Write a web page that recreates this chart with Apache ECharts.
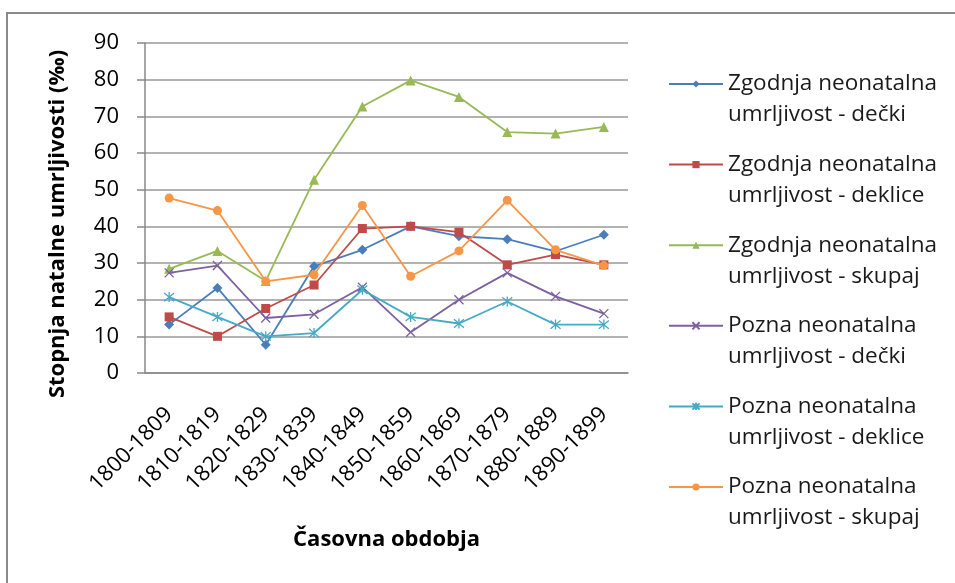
<!DOCTYPE html>
<html>
<head>
<meta charset="utf-8">
<script src="https://cdn.jsdelivr.net/npm/echarts@6/dist/echarts.min.js"></script>
<style>
html,body{margin:0;padding:0;background:#fff;}
#c{width:955px;height:583px;}
</style>
</head>
<body>
<div id="c"></div>
<script>
const categories = ['1800-1809','1810-1819','1820-1829','1830-1839','1840-1849','1850-1859','1860-1869','1870-1879','1880-1889','1890-1899'];
const seriesNames = [
  'Zgodnja neonatalna\numrljivost - dečki',
  'Zgodnja neonatalna\numrljivost - deklice',
  'Zgodnja neonatalna\numrljivost - skupaj',
  'Pozna neonatalna\numrljivost - dečki',
  'Pozna neonatalna\numrljivost - deklice',
  'Pozna neonatalna\numrljivost - skupaj'
];
const zgodnjaDecki   = [13.2, 23.2, 7.7, 29.1, 33.6, 40.0, 37.3, 36.5, 33.2, 37.7];
const zgodnjaDeklice = [15.3, 10.0, 17.6, 24.0, 39.4, 40.0, 38.4, 29.5, 32.3, 29.5];
const zgodnjaSkupaj  = [28.4, 33.3, 25.1, 52.7, 72.7, 79.8, 75.3, 65.7, 65.3, 67.1];
const poznaDecki     = [27.3, 29.3, 15.0, 16.0, 23.4, 11.1, 20.0, 27.3, 20.9, 16.2];
const poznaDeklice   = [20.7, 15.3, 10.0, 10.9, 22.7, 15.3, 13.5, 19.5, 13.2, 13.2];
const poznaSkupaj    = [47.7, 44.3, 25.0, 26.8, 45.7, 26.4, 33.3, 47.1, 33.6, 29.3];
const yTicks = { min: 0, max: 90, interval: 10 };

const colors = ['#4A7EBB', '#BE4B48', '#98B954', '#7D60A0', '#46AAC5', '#F79646'];
const symbols = [
  'diamond', 'rect', 'triangle',
  'path://M0 0 L10 10 M10 0 L0 10',
  'path://M0 0 L10 10 M10 0 L0 10 M5 -1 L5 11',
  'circle'
];
const symbolSizes = [10, 9, 10, 9, 10, 9];
const allData = [zgodnjaDecki, zgodnjaDeklice, zgodnjaSkupaj, poznaDecki, poznaDeklice, poznaSkupaj];
const FONT = "'Open Sans', sans-serif";

const series = allData.map((d, i) => {
  const isStroke = i === 3 || i === 4;
  return {
    name: seriesNames[i],
    type: 'line',
    data: d,
    symbol: symbols[i],
    symbolSize: symbolSizes[i],
    showAllSymbol: true,
    lineStyle: { color: colors[i], width: 1.8 },
    itemStyle: isStroke
      ? { color: 'rgba(0,0,0,0)', borderColor: colors[i], borderWidth: 1.3 }
      : { color: colors[i], borderColor: colors[i], borderWidth: 0 },
    emphasis: { disabled: true },
    z: 2 + i
  };
});

const legends = seriesNames.map((n, i) => ({
  data: [n],
  orient: 'vertical',
  left: 668,
  top: 37.5 + i * 80.6,
  padding: 0,
  itemWidth: 54,
  itemHeight: 9,
  itemGap: 0,
  selectedMode: false,
  formatter: function (name) { return '\n' + name; },
  textStyle: { fontFamily: FONT, fontSize: 22.5, color: '#1a1a1a', lineHeight: 31 }
}));

const chart = echarts.init(document.getElementById('c'), null, { renderer: 'canvas' });
chart.setOption({
  animation: false,
  backgroundColor: '#fff',
  grid: { left: 145, right: 327, top: 43, bottom: 210, containLabel: false },
  legend: legends,
  xAxis: {
    type: 'category',
    data: categories,
    boundaryGap: true,
    axisLine: { lineStyle: { color: '#888', width: 1.5 } },
    axisTick: { show: false },
    axisLabel: { rotate: 45, margin: 38, fontFamily: FONT, fontSize: 22, color: '#000', interval: 0 },
    name: 'Časovna obdobja',
    nameLocation: 'middle',
    nameGap: 156,
    nameTextStyle: { fontFamily: FONT, fontSize: 22, fontWeight: 'bold', color: '#000' }
  },
  yAxis: {
    type: 'value',
    min: yTicks.min, max: yTicks.max, interval: yTicks.interval,
    axisLine: { show: true, lineStyle: { color: '#888', width: 1.5 } },
    axisTick: { show: true, inside: false, length: 8, lineStyle: { color: '#888', width: 1.5 } },
    axisLabel: { margin: 26, fontFamily: FONT, fontSize: 22, color: '#000' },
    splitLine: { show: true, lineStyle: { color: '#999', width: 1.5 } }
  },
  graphic: [
    {
      type: 'rect',
      silent: true,
      shape: { x: 7, y: 13, width: 1200, height: 1000 },
      style: { fill: 'none', stroke: '#8a8a8a', lineWidth: 2 },
      z: -10
    },
    {
      type: 'text',
      silent: true,
      x: 58, y: 224,
      rotation: Math.PI / 2,
      style: {
        text: 'Stopnja natalne umrljivosti (‰)',
        fontFamily: FONT, fontSize: 22, fontWeight: 'bold', fill: '#000',
        align: 'center', verticalAlign: 'middle'
      }
    }
  ],
  series: series
});
</script>
</body>
</html>
